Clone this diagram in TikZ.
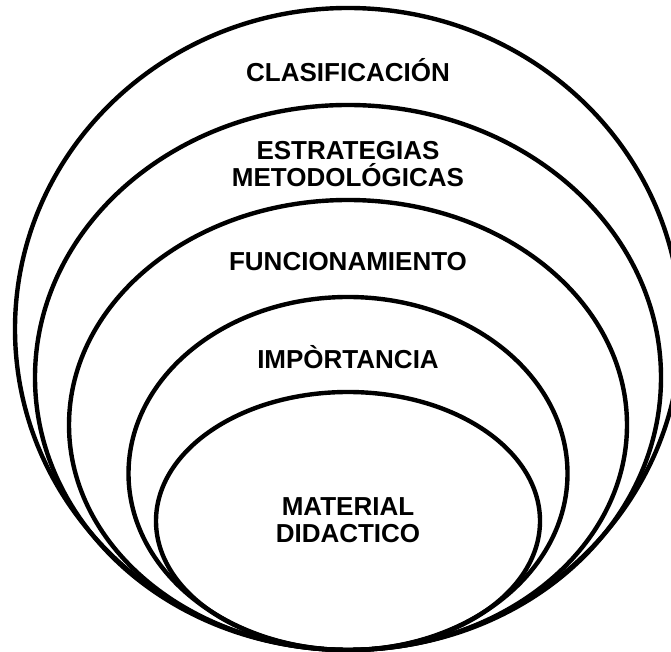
\documentclass[tikz,border=0pt]{standalone}
\usepackage{fontspec}
\setmainfont{Liberation Sans}
\begin{document}
\begin{tikzpicture}[x=1pt,y=1pt,
  ring/.style={draw=black,line width=4.4pt},
  lbl/.style={font=\fontsize{26}{27}\selectfont\bfseries,align=center,anchor=base,inner sep=0pt}]
\useasboundingbox (0,0) rectangle (671,652);
\draw[ring] (348,323) ellipse [x radius=333, y radius=321];
\draw[ring] (348,274.5) ellipse [x radius=313, y radius=272.5];
\draw[ring] (348,227) ellipse [x radius=279, y radius=225];
\draw[ring] (348,178.5) ellipse [x radius=219.5, y radius=176.5];
\draw[ring] (348,131) ellipse [x radius=192, y radius=129];
\node[lbl] (clas) at (348,570) {CLASIFICACIÓN};
\node[lbl] (estr) at (348,465) {ESTRATEGIAS\\METODOLÓGICAS};
\node[lbl] (func) at (348,381) {FUNCIONAMIENTO};
\node[lbl] (impo) at (348,283) {IMPÒRTANCIA};
\node[lbl] (mate) at (348,109) {MATERIAL\\DIDACTICO};
\end{tikzpicture}
\end{document}
